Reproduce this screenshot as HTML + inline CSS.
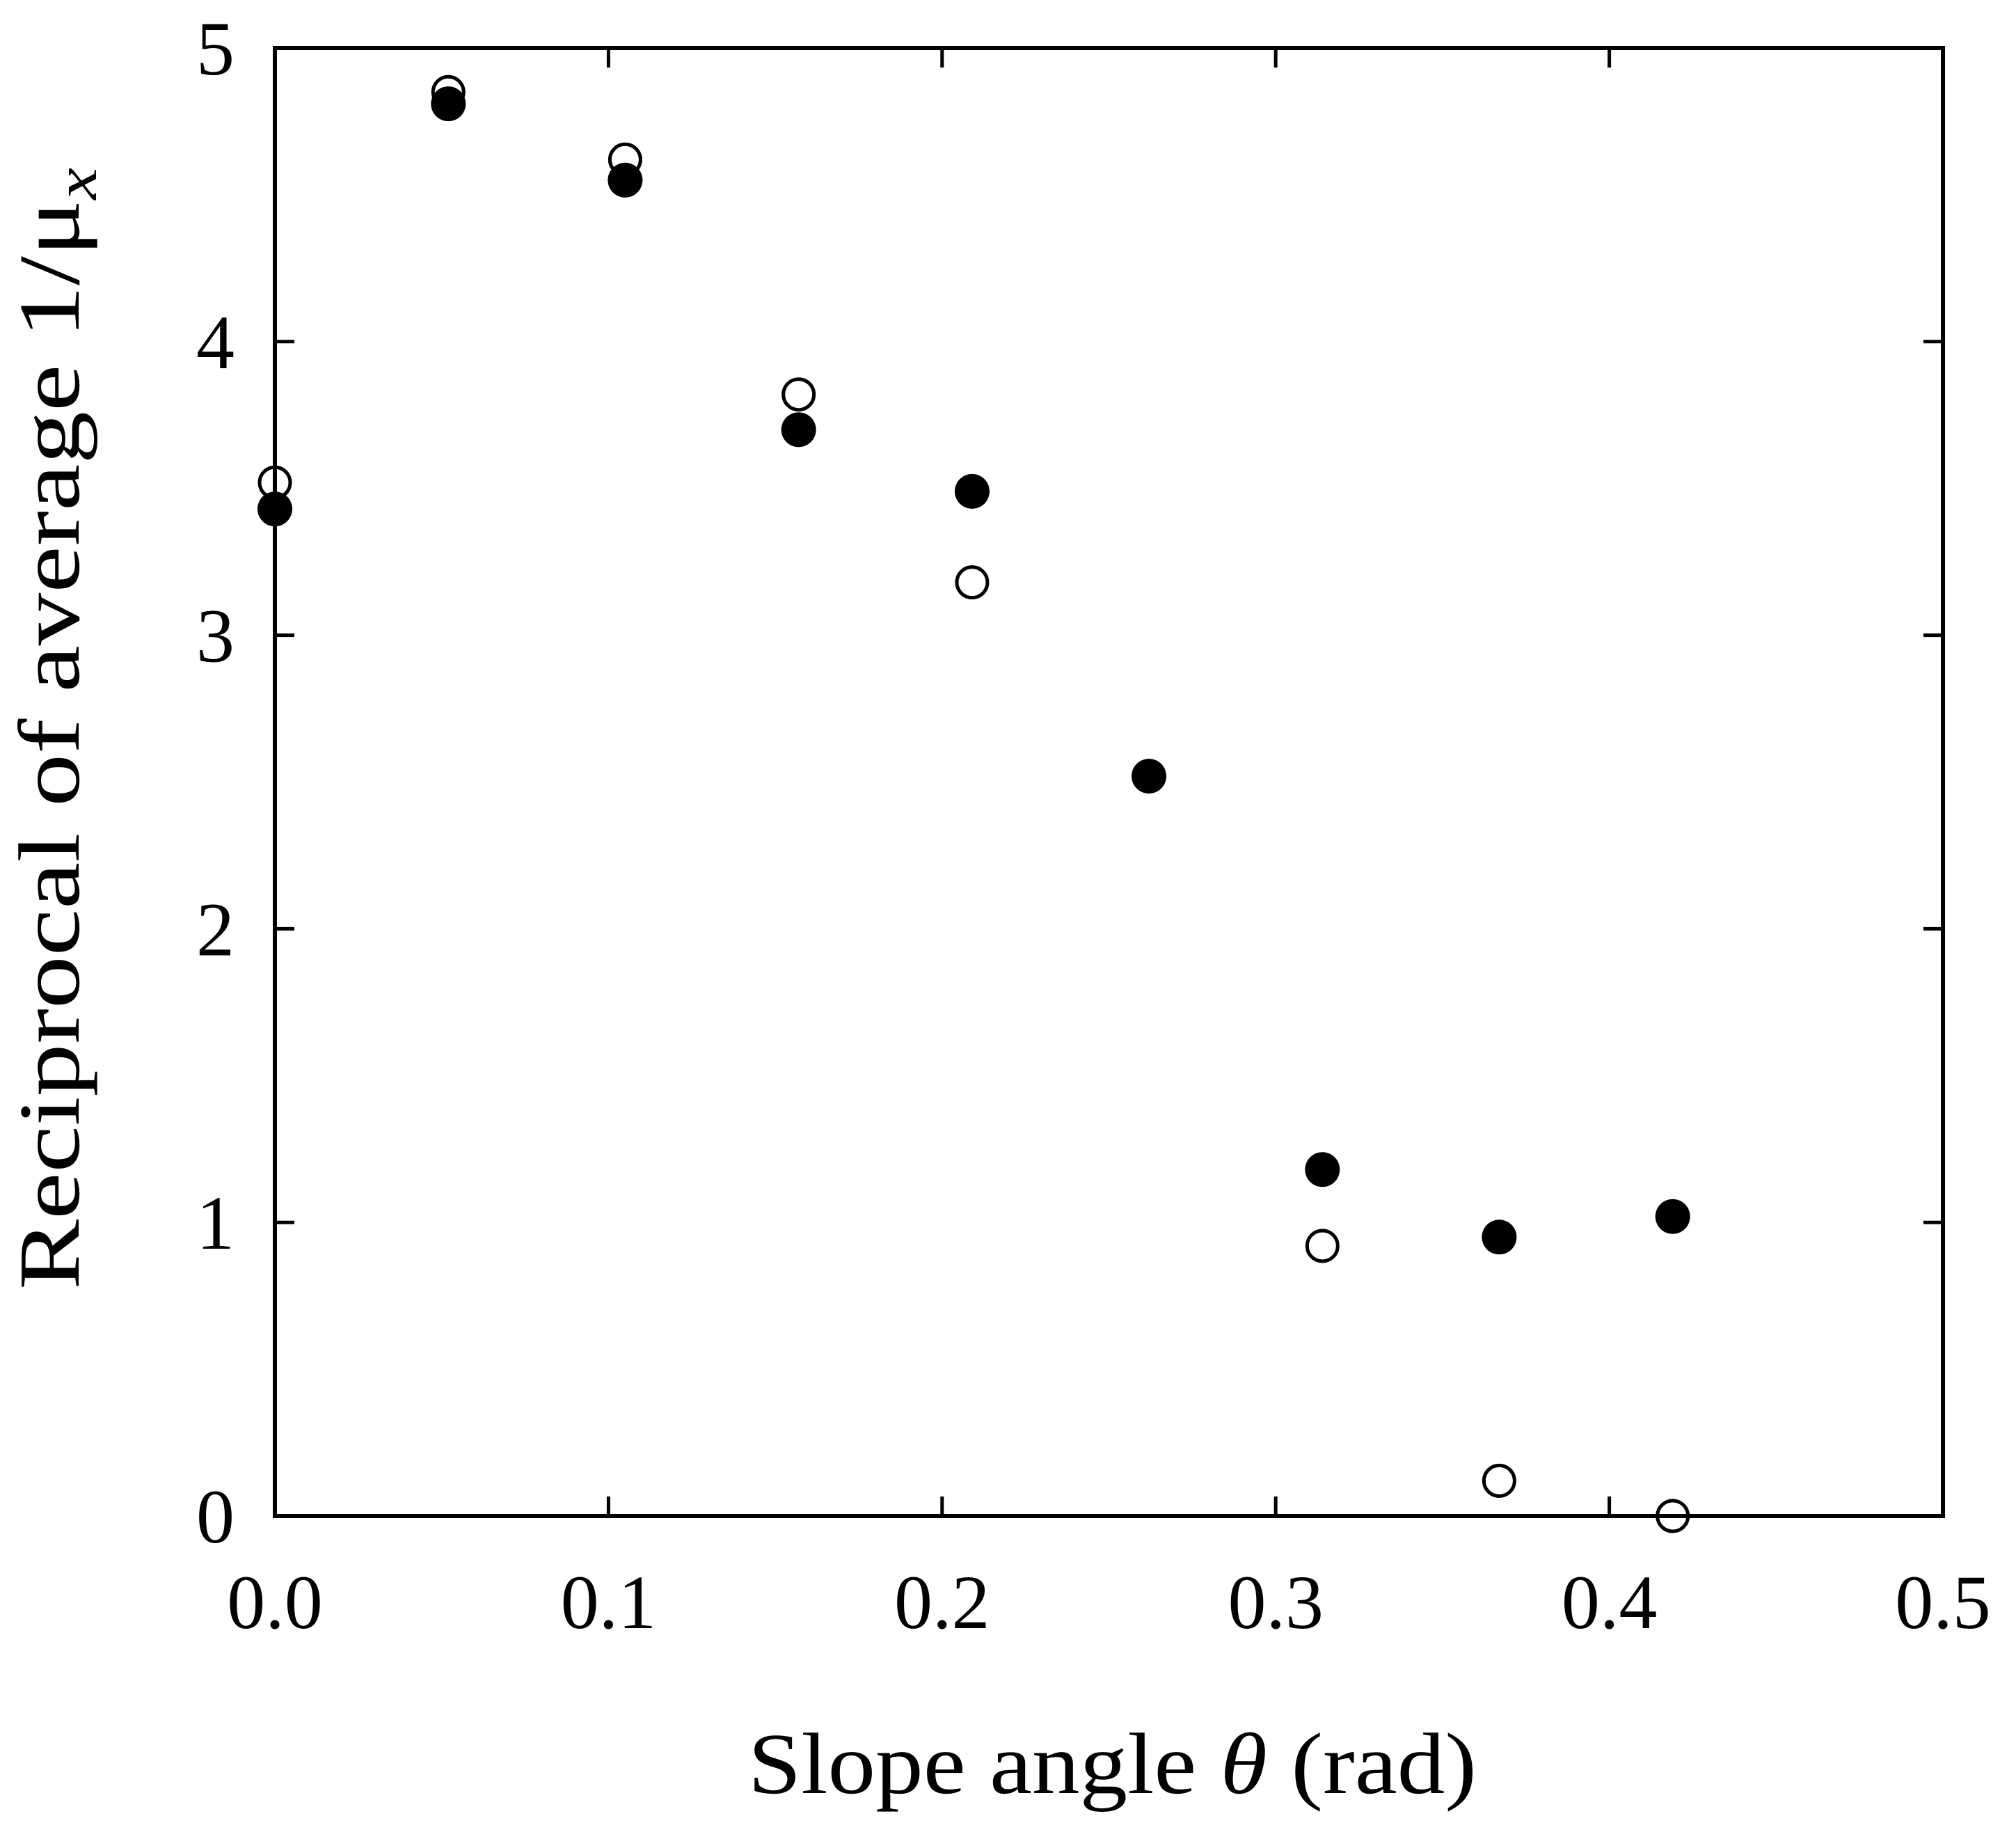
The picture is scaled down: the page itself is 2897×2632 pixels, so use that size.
<!DOCTYPE html>
<html><head><meta charset="utf-8"><style>
html,body{margin:0;padding:0;background:#fff;}
svg{display:block;font-family:"Liberation Serif",serif;}
</style></head><body>
<svg id="chart" width="2897" height="2632" viewBox="0 0 2897 2632" xmlns="http://www.w3.org/2000/svg">
<g id="ticks"></g>
<g id="marks"></g>
<rect x="395" y="69" width="2397" height="2109" fill="none" stroke="#000" stroke-width="6"/>
<text x="1075" y="2576" font-size="125" textLength="1047" lengthAdjust="spacingAndGlyphs">Slope angle <tspan font-style="italic">θ</tspan>  (rad)</text>
<text transform="translate(113,1853) rotate(-90)" font-size="125" textLength="1612" lengthAdjust="spacingAndGlyphs">Reciprocal of average  1/μ<tspan font-style="italic" font-size="85" dy="25">x</tspan></text>
</svg>
<script>
const xTicks = [0.0, 0.1, 0.2, 0.3, 0.4, 0.5];
const xTickLabels = ["0.0", "0.1", "0.2", "0.3", "0.4", "0.5"];
const yTicks = [0, 1, 2, 3, 4, 5];
const yTickLabels = ["0", "1", "2", "3", "4", "5"];
const openX = [0, 0.052, 0.105, 0.157, 0.209, 0.262, 0.314, 0.367, 0.419];
const openY = [3.52, 4.85, 4.62, 3.82, 3.18, 2.52, 0.92, 0.12, 0.0];
const filledX = [0, 0.052, 0.105, 0.157, 0.209, 0.262, 0.314, 0.367, 0.419];
const filledY = [3.43, 4.81, 4.55, 3.70, 3.49, 2.52, 1.18, 0.95, 1.02];

const L = 395, R = 2792, T = 69, B = 2178;
function sx(v){ return L + (v - 0) / 0.5 * (R - L); }
function sy(v){ return B - (v - 0) / 5 * (B - T); }
const NS = "http://www.w3.org/2000/svg";
const tg = document.getElementById('ticks');
const mg = document.getElementById('marks');
function line(x1,y1,x2,y2){
  const l = document.createElementNS(NS,'line');
  l.setAttribute('x1',x1);l.setAttribute('y1',y1);l.setAttribute('x2',x2);l.setAttribute('y2',y2);
  l.setAttribute('stroke','#000');l.setAttribute('stroke-width','5');
  
  
  tg.appendChild(l);
}
xTicks.forEach((v,i)=>{
  const x = sx(v);
  line(x,B,x,B-28); line(x,T,x,T+28);
  const t = document.createElementNS(NS,'text');
  t.setAttribute('x',x);t.setAttribute('y',2339);t.setAttribute('font-size','110');t.setAttribute('text-anchor','middle');
  t.textContent = xTickLabels[i];
  
  
  tg.appendChild(t);
});
yTicks.forEach((v,i)=>{
  const y = sy(v);
  line(L,y,L+28,y); line(R,y,R-28,y);
  const t = document.createElementNS(NS,'text');
  t.setAttribute('x',337);t.setAttribute('y',y+38);t.setAttribute('font-size','110');t.setAttribute('text-anchor','end');
  t.textContent = yTickLabels[i];
  
  
  tg.appendChild(t);
});
openX.forEach((v,i)=>{
  const c = document.createElementNS(NS,'circle');
  c.setAttribute('cx',sx(v));c.setAttribute('cy',sy(openY[i]));c.setAttribute('r',22);
  c.setAttribute('fill','#fff');c.setAttribute('stroke','#000');c.setAttribute('stroke-width','5');
  
  
  mg.appendChild(c);
});
filledX.forEach((v,i)=>{
  const c = document.createElementNS(NS,'circle');
  c.setAttribute('cx',sx(v));c.setAttribute('cy',sy(filledY[i]));c.setAttribute('r',25);
  c.setAttribute('fill','#000');
  
  
  mg.appendChild(c);
});
</script>
</body></html>
